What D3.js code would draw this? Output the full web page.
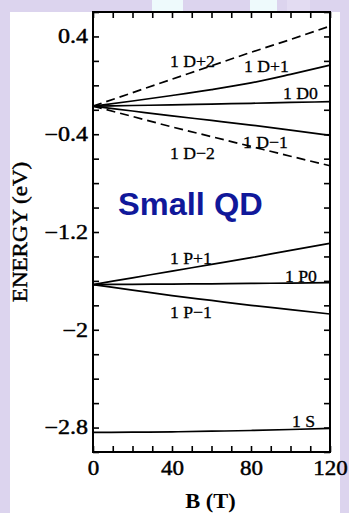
<!DOCTYPE html>
<html>
<head>
<meta charset="utf-8">
<script src="https://cdn.jsdelivr.net/npm/d3@7"></script>
<style>
  html, body { margin: 0; padding: 0; background: #dcd4ee; }
  svg { display: block; }
</style>
</head>
<body>
<svg id="chart" width="349" height="513"></svg>
<script>
// Magnetic field values (T)
const fieldB = [0, 20, 40, 60, 80, 100, 120];

// Single-particle energy levels (eV) versus field
const levelNames = ["1 D+2", "1 D+1", "1 D0", "1 D\u22121", "1 D\u22122", "1 P+1", "1 P0", "1 P\u22121", "1 S"];
const levelDashed = [true, false, false, false, true, false, false, false, false];
const energyD2 = [-0.17, -0.06, 0.05, 0.16, 0.27, 0.375, 0.485];
const energyD1 = [-0.17, -0.128, -0.083, -0.035, 0.02, 0.09, 0.165];
const energyD0 = [-0.17, -0.165, -0.16, -0.153, -0.147, -0.14, -0.134];
const energyDm1 = [-0.17, -0.21, -0.25, -0.287, -0.325, -0.367, -0.41];
const energyDm2 = [-0.17, -0.255, -0.34, -0.42, -0.5, -0.58, -0.658];
const energyP1 = [-1.63, -1.575, -1.52, -1.465, -1.41, -1.35, -1.293];
const energyP0 = [-1.63, -1.628, -1.626, -1.624, -1.621, -1.618, -1.615];
const energyPm1 = [-1.63, -1.675, -1.72, -1.76, -1.80, -1.835, -1.871];
const energyS = [-2.84, -2.838, -2.835, -2.83, -2.824, -2.816, -2.806];
const levelEnergies = [energyD2, energyD1, energyD0, energyDm1, energyDm2, energyP1, energyP0, energyPm1, energyS];

// Where each level name sits, in data coordinates (B, E)
const labelB = [39, 76.5, 96.2, 76, 39, 39, 97.2, 39, 100.8];
const labelE = [0.15, 0.109, -0.112, -0.509, -0.605, -1.462, -1.61, -1.904, -2.796];

// Axis ticks
const xTicks = [0, 10, 20, 30, 40, 50, 60, 70, 80, 90, 100, 110, 120];
const xTickLabels = [0, 40, 80, 120];
const yTicks = d3.range(-3, 0.61, 0.2).map(v => Math.round(v * 10) / 10);
const yTickLabels = [0.4, -0.4, -1.2, -2, -2.8];

const svg = d3.select("#chart");
const serif = "'Liberation Serif', 'Times New Roman', serif";

// Page background: lavender frame, pale patches along the top, white panel
svg.append("rect").attr("x", 0).attr("y", 0).attr("width", 349).attr("height", 513).attr("fill", "#dcd4ee");
svg.append("rect").attr("x", 152).attr("y", 0).attr("width", 31).attr("height", 12).attr("fill", "#eefafc");
svg.append("rect").attr("x", 250).attr("y", 0).attr("width", 27).attr("height", 12).attr("fill", "#eefafc");
svg.append("rect").attr("x", 287).attr("y", 0).attr("width", 23).attr("height", 12).attr("fill", "#e3dcf2");
svg.append("rect").attr("x", 10).attr("y", 12).attr("width", 330).attr("height", 501).attr("fill", "#ffffff");

const x = d3.scaleLinear().domain([0, 120]).range([93, 330]);
const y = d3.scaleLinear().domain([-3, 0.6]).range([452, 12]);

// Widen glyphs slightly along the text direction
function widen(sel, k) {
  sel.each(function () {
    const len = this.getComputedTextLength();
    d3.select(this).attr("textLength", len * k).attr("lengthAdjust", "spacingAndGlyphs");
  });
}

// Level curves
const line = d3.line()
  .x((d, i) => x(fieldB[i]))
  .y(d => y(d))
  .curve(d3.curveMonotoneX);

svg.append("g").selectAll("path")
  .data(levelEnergies)
  .join("path")
  .attr("d", d => line(d))
  .attr("fill", "none")
  .attr("stroke", "#000")
  .attr("stroke-width", 1.7)
  .attr("stroke-dasharray", (d, i) => levelDashed[i] ? "9,5" : null);

// Level names
svg.append("g").selectAll("text")
  .data(levelNames)
  .join("text")
  .attr("x", (d, i) => x(labelB[i]))
  .attr("y", (d, i) => y(labelE[i]))
  .attr("font-family", serif)
  .attr("font-size", 17)
  .attr("fill", "#000")
  .attr("stroke", "#000")
  .attr("stroke-width", 0.3)
  .text(d => d)
  .call(widen, 1.04);

// Axes with inward ticks on all four sides
const fmt = v => {
  const s = d3.format("")(v);
  return s.replace("-", "\u2212");
};

const xAxisBottom = svg.append("g")
  .attr("transform", `translate(0,${y.range()[0]})`)
  .call(d3.axisBottom(x).tickValues(xTicks).tickSize(-6).tickPadding(9)
    .tickFormat(d => xTickLabels.includes(d) ? d : ""));
const xAxisTop = svg.append("g")
  .attr("transform", `translate(0,${y.range()[1]})`)
  .call(d3.axisTop(x).tickValues(xTicks).tickSize(-6).tickFormat(""));
const yAxisLeft = svg.append("g")
  .attr("transform", `translate(${x.range()[0]},0)`)
  .call(d3.axisLeft(y).tickValues(yTicks).tickSize(-6).tickPadding(5)
    .tickFormat(d => yTickLabels.includes(d) ? fmt(d) : ""));
const yAxisRight = svg.append("g")
  .attr("transform", `translate(${x.range()[1]},0)`)
  .call(d3.axisRight(y).tickValues(yTicks).tickSize(-6).tickFormat(""));

[xAxisBottom, xAxisTop, yAxisLeft, yAxisRight].forEach(g => {
  g.select(".domain").remove();
  g.selectAll(".tick line").attr("stroke", "#000").attr("stroke-width", 1.6);
  g.selectAll("text").attr("font-family", serif).attr("font-size", 20).attr("fill", "#000")
    .attr("stroke", "#000").attr("stroke-width", 0.45);
});
xAxisBottom.selectAll("text").attr("dy", "0.71em").call(widen, 1.15);
yAxisLeft.selectAll("text").call(widen, 1.2);

// Plot frame
svg.append("rect")
  .attr("x", x.range()[0]).attr("y", y.range()[1])
  .attr("width", x.range()[1] - x.range()[0])
  .attr("height", y.range()[0] - y.range()[1])
  .attr("fill", "none").attr("stroke", "#000").attr("stroke-width", 2);

// Axis titles
svg.append("text")
  .attr("x", (x.range()[0] + x.range()[1]) / 2 - 1)
  .attr("y", 508)
  .attr("text-anchor", "middle")
  .attr("font-family", serif)
  .attr("font-weight", "bold")
  .attr("font-size", 20)
  .text("B (T)")
  .call(widen, 1.12);

svg.append("text")
  .attr("transform", "translate(27,232) rotate(-90)")
  .attr("text-anchor", "middle")
  .attr("font-family", serif)
  .attr("font-size", 20)
  .attr("stroke", "#000")
  .attr("stroke-width", 0.4)
  .text("ENERGY (eV)")
  .call(widen, 1.15);

// Panel caption
svg.append("text")
  .attr("x", 118)
  .attr("y", 215)
  .attr("font-family", "'Liberation Sans', Arial, sans-serif")
  .attr("font-weight", "bold")
  .attr("font-size", 31)
  .attr("fill", "#10189a")
  .text("Small QD")
  .call(widen, 1.05);
</script>
</body>
</html>
